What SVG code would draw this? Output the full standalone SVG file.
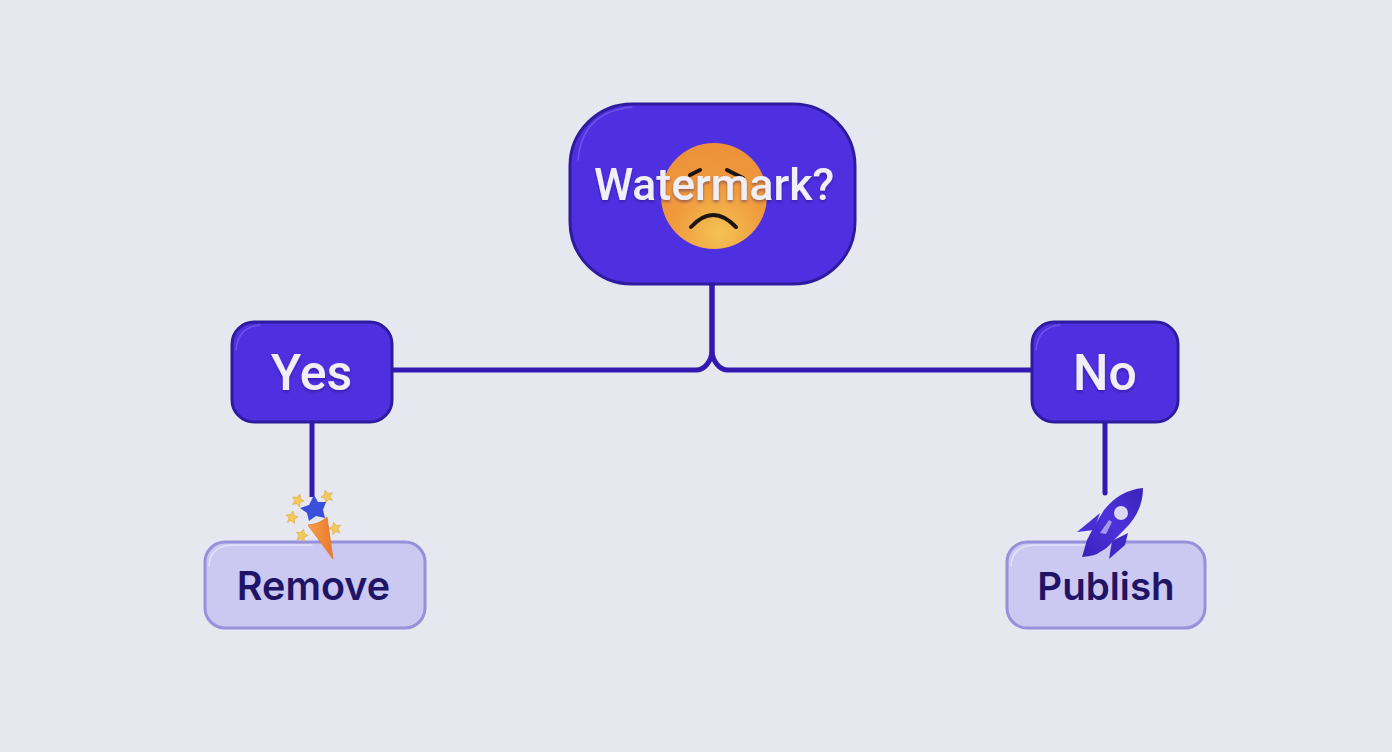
<svg xmlns="http://www.w3.org/2000/svg" width="1392" height="752" viewBox="0 0 1392 752">
<style>
.dark{fill:#4f30e0;stroke:#2f1b9e;stroke-width:3}
.light{fill:#cbc8f2;stroke:#9790da;stroke-width:3}
.hl{fill:none;stroke-width:1.500;stroke-linecap:round;opacity:.7}
.lbl{font-family:"Roboto","Liberation Sans",sans-serif;font-weight:500;text-anchor:middle}
.w{fill:#f0eff7;filter:url(#ts)}
.n{fill:#1f1466;font-family:"Inter","Liberation Sans",sans-serif;font-weight:600}
.conn{fill:none;stroke:#3319b0;stroke-width:5}
.spark{fill:#f3c95a;stroke:#e0a93c;stroke-width:.6}
.brow{fill:none;stroke:#1d1512;stroke-width:4;stroke-linecap:round}
</style>
<defs>
<radialGradient id="face" cx=".55" cy=".85" r=".8"><stop offset="0" stop-color="#f4c254"/><stop offset=".55" stop-color="#f09a3e"/><stop offset="1" stop-color="#ed9239"/></radialGradient>
<linearGradient id="cone" x1="0" y1="0" x2="1" y2="0"><stop offset="0" stop-color="#f6a04a"/><stop offset="1" stop-color="#e9782a"/></linearGradient>
<linearGradient id="rocket" x1="1" y1="0" x2="0" y2="1"><stop offset="0" stop-color="#3b22b8"/><stop offset=".5" stop-color="#4d32dc"/><stop offset="1" stop-color="#3a22bb"/></linearGradient>
<filter id="ts" x="-10%" y="-20%" width="120%" height="150%"><feDropShadow dx="0" dy="2" stdDeviation="1.500" flood-color="#1a0f66" flood-opacity=".4"/></filter>
<path id="sp" d="M0-6 2-2 6-1.200 2.700 1.500 3.600 6 0 3.600 -3.600 6 -2.700 1.500 -6-1.200 -2-2Z"/>
</defs>
<rect width="1392" height="752" fill="#e7e7ef"/>
<g id="connectors">
<path class="conn" d="M712 284V352C711 361 705 370 696 370H392"/>
<path class="conn" d="M712 284V352C713 361 719 370 728 370H1032"/>
<path class="conn" d="M312 422V497"/>
<path class="conn" d="M1105 422V493" style="stroke-linecap:round"/>
</g>
<g id="node-watermark">
<rect class="dark" x="570" y="104" width="285" height="180" rx="62"/>
<path class="hl" stroke="#7a63ee" d="M578 160Q582 112 632 107"/>
<circle cx="714" cy="196" r="53" fill="url(#face)"/>
<path class="brow" d="M690 175 700 170"/>
<path class="brow" d="M727 170 743 178"/>
<path class="brow" d="M691 227Q713 203 736 227"/>
<text class="lbl w" x="714" y="200" font-size="44.500">Watermark?</text>
</g>
<g id="node-yes">
<rect class="dark" x="232" y="322" width="160" height="100" rx="22"/>
<path class="hl" stroke="#7a63ee" d="M236 350Q238 327 260 325"/>
<text class="lbl w" x="311.500" y="390" font-size="50">Yes</text>
</g>
<g id="node-no">
<rect class="dark" x="1032" y="322" width="146" height="100" rx="22"/>
<path class="hl" stroke="#7a63ee" d="M1036 350Q1038 327 1060 325"/>
<text class="lbl w" x="1105" y="390" font-size="50">No</text>
</g>
<g id="node-remove">
<rect class="light" x="205" y="542" width="220" height="86" rx="20"/>
<path class="hl" stroke="#eeecfc" d="M209 566Q210 546 232 545H312"/>
<text class="lbl n" x="313.500" y="600" font-size="39.500">Remove</text>
<g id="icon-popper">
<use href="#sp" class="spark" transform="translate(298 500) rotate(20)"/>
<use href="#sp" class="spark" transform="translate(327 496) rotate(-20)"/>
<use href="#sp" class="spark" transform="translate(292 517) rotate(10)"/>
<use href="#sp" class="spark" transform="translate(302 535) rotate(15)"/>
<use href="#sp" class="spark" transform="translate(335 528) rotate(-15)"/>
<path d="M314 495 318 502 326 502 323 510 325 518 316 516 309 521 307 513 300 508 309 505Z" fill="#3a50dc"/>
<path d="M308 525Q320 524 327 517L333 559Z" fill="url(#cone)" stroke="#df7a2c" stroke-width=".8"/>
</g>
</g>
<g id="node-publish">
<rect class="light" x="1007" y="542" width="198" height="86" rx="20"/>
<path class="hl" stroke="#eeecfc" d="M1011 566Q1012 546 1034 545H1085"/>
<text class="lbl n" x="1106" y="600" font-size="38.500">Publish</text>
<g id="icon-rocket">
<path d="M1100 513 1077 532 1094 530Z" fill="#4a30d4"/>
<path d="M1128 533 1125 545 1109 559 1112 541Z" fill="#4028c4"/>
<path d="M1143 488Q1120 490 1104 510Q1094 526 1087 540L1082 557Q1096 556 1100 552Q1108 548 1112 542L1124 530Q1143 512 1143 488Z" fill="url(#rocket)"/>
<circle cx="1121" cy="513" r="7" fill="#dcd8f2"/>
<path d="M1109 520 1112 522 1106 534 1100 533Z" fill="#a898ec"/>
</g>
</g>
</svg>
